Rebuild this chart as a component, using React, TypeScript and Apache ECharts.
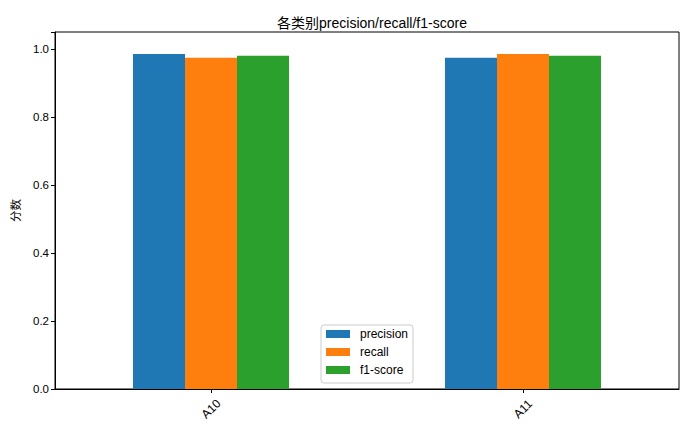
import React, { useEffect, useRef } from "react";
import * as echarts from "echarts";

const categories = ["A10", "A11"];
const precision = [0.985, 0.974];
const recall = [0.974, 0.985];
const f1score = [0.98, 0.98];
const seriesNames = ["precision", "recall", "f1-score"];
const colors = ["#1f77b4", "#ff7f0e", "#2ca02c"];
const titleText = "各类别precision/recall/f1-score";
const yName = "分数";

const FONT = '"Liberation Sans", Arial, "Noto Sans CJK SC", sans-serif';

export default function App() {
  const ref = useRef<HTMLDivElement>(null);
  useEffect(() => {
    if (!ref.current) return;
    const chart = echarts.init(ref.current, null, { renderer: "svg" });
    const values = [precision, recall, f1score];
    chart.setOption({
      animation: false,
      backgroundColor: "#ffffff",
      textStyle: { fontFamily: FONT },
      title: {
        text: titleText,
        left: 367,
        top: 11,
        textAlign: "center",
        textStyle: { fontFamily: FONT, fontSize: 14, fontWeight: "normal", color: "#000" },
      },
      grid: {
        left: 55,
        right: 13,
        top: 32,
        bottom: 44,
        show: true,
        borderColor: "#000",
        borderWidth: 1,
        backgroundColor: "transparent",
      },
      legend: {
        orient: "vertical",
        left: 321,
        top: 325,
        itemWidth: 24,
        itemHeight: 8,
        itemGap: 6,
        padding: [3, 5, 7, 5],
        borderColor: "#cccccc",
        borderWidth: 1,
        borderRadius: 3,
        icon: "rect",
        data: seriesNames,
        textStyle: { fontFamily: FONT, fontSize: 12, color: "#000", lineHeight: 12, padding: [0, 0, 0, 5] },
      },
      xAxis: {
        type: "category",
        data: categories,
        axisLine: { show: true, lineStyle: { color: "#000", width: 1 } },
        axisTick: { show: true, alignWithLabel: true, length: 4, lineStyle: { color: "#000" } },
        axisLabel: {
          rotate: 45,
          align: "center",
          verticalAlign: "middle",
          margin: 20,
          fontFamily: FONT,
          fontSize: 12,
          color: "#000",
        },
      },
      yAxis: {
        type: "value",
        min: 0,
        max: 1.05,
        interval: 0.2,
        name: yName,
        nameLocation: "middle",
        nameGap: 33,
        nameRotate: 90,
        nameTextStyle: { fontFamily: FONT, fontSize: 11.5, color: "#000" },
        splitLine: { show: false },
        axisLine: { show: true, lineStyle: { color: "#000", width: 1 } },
        axisTick: { show: true, length: 4, lineStyle: { color: "#000" } },
        axisLabel: {
          fontFamily: FONT,
          fontSize: 11.5,
          color: "#000",
          margin: 6,
          formatter: (v: number) => (v > 1.01 ? "" : v.toFixed(1)),
        },
      },
      series: seriesNames.map((name, i) => ({
        name,
        type: "bar",
        data: values[i],
        barGap: "0%",
        barCategoryGap: "50%",
        itemStyle: { color: colors[i] },
      })),
    });
    return () => chart.dispose();
  }, []);
  return <div ref={ref} style={{ width: 692, height: 433, margin: -8 }} />;
}
